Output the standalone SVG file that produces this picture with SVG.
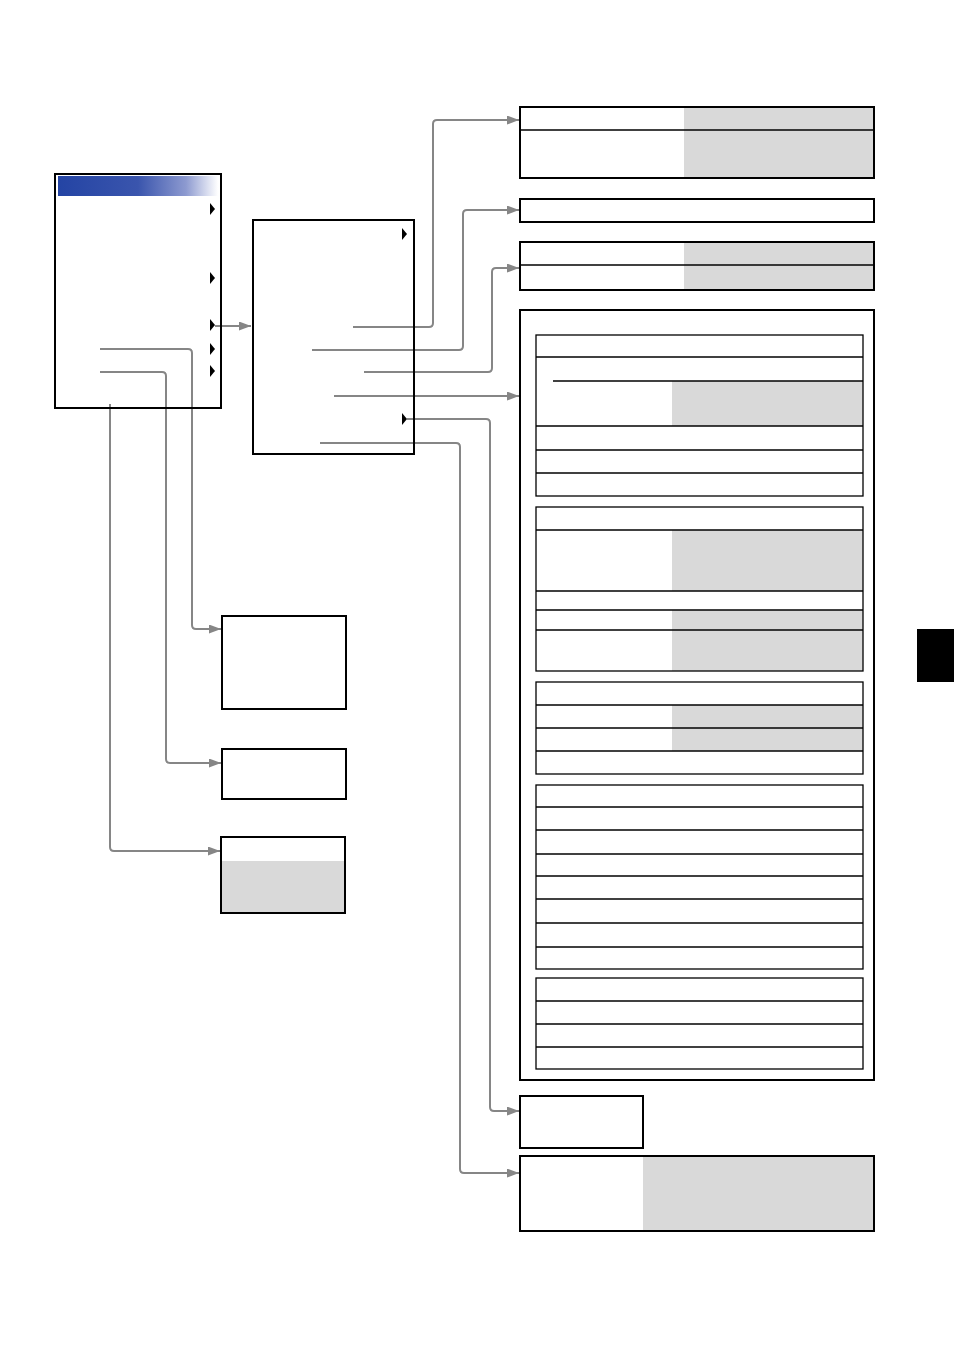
<svg xmlns="http://www.w3.org/2000/svg" width="954" height="1348" viewBox="0 0 954 1348">
<style>
.box{fill:#fff;stroke:#000;stroke-width:2}
.in{fill:none;stroke:#000;stroke-width:1.3}
.g{fill:#d9d9d9;stroke:none}
.c{fill:none;stroke:#868686;stroke-width:2;stroke-linejoin:round}
.tri{fill:#000}
</style>
<defs>
<linearGradient id="hdr" x1="0" y1="0" x2="1" y2="0">
<stop offset="0" stop-color="#2444a4"/>
<stop offset="0.5" stop-color="#3a55ad"/>
<stop offset="0.8" stop-color="#8d9ad0"/>
<stop offset="1" stop-color="#ffffff"/>
</linearGradient>
<marker id="ah" viewBox="0 0 10 10" refX="10" refY="5" markerWidth="12" markerHeight="9" markerUnits="userSpaceOnUse" orient="auto" preserveAspectRatio="none">
<path d="M0,0 L10,5 L0,10 Z" fill="#868686"/>
</marker>
</defs>
<rect width="954" height="1348" fill="#fff"/>

<g id="connectors">
<path class="c" marker-end="url(#ah)" d="M215,326 H251"/>
<path class="c" marker-end="url(#ah)" d="M353,327 H429 Q433,327 433,323 V124 Q433,120 437,120 H519"/>
<path class="c" marker-end="url(#ah)" d="M312,350 H459 Q463,350 463,346 V214 Q463,210 467,210 H519"/>
<path class="c" marker-end="url(#ah)" d="M364,372 H488 Q492,372 492,368 V272 Q492,268 496,268 H519"/>
<path class="c" marker-end="url(#ah)" d="M334,396 H519"/>
<path class="c" marker-end="url(#ah)" d="M407,419 H486 Q490,419 490,423 V1107 Q490,1111 494,1111 H519"/>
<path class="c" marker-end="url(#ah)" d="M320,443 H456 Q460,443 460,447 V1169 Q460,1173 464,1173 H519"/>
<path class="c" marker-end="url(#ah)" d="M100,349 H188 Q192,349 192,353 V625 Q192,629 196,629 H221"/>
<path class="c" marker-end="url(#ah)" d="M100,372 H162 Q166,372 166,376 V759 Q166,763 170,763 H221"/>
<path class="c" marker-end="url(#ah)" d="M110,404 V847 Q110,851 114,851 H220"/>
</g>

<g id="menu-main">
<rect x="55" y="174" width="166" height="234" fill="none" stroke="#000" stroke-width="2"/>
<rect x="58" y="176" width="160" height="20" fill="url(#hdr)"/>
<path class="tri" d="M210,203 L215,209 L210,215 Z"/>
<path class="tri" d="M210,272 L215,278 L210,284 Z"/>
<path class="tri" d="M210,319 L215,325 L210,331 Z"/>
<path class="tri" d="M210,343 L215,349 L210,355 Z"/>
<path class="tri" d="M210,365 L215,371 L210,377 Z"/>
</g>

<g id="menu-sub">
<rect x="253" y="220" width="161" height="234" fill="none" stroke="#000" stroke-width="2"/>
<path class="tri" d="M402,228 L407,234 L402,240 Z"/>
<path class="tri" d="M402,413 L407,419 L402,425 Z"/>
</g>

<g id="box-a">
<rect class="box" x="520" y="107" width="354" height="71"/>
<rect class="g" x="684" y="108" width="189" height="69"/>
<line class="in" x1="520" y1="130" x2="874" y2="130"/>
</g>

<g id="box-b">
<rect class="box" x="520" y="199" width="354" height="23"/>
</g>

<g id="box-c">
<rect class="box" x="520" y="242" width="354" height="48"/>
<rect class="g" x="684" y="243" width="189" height="46"/>
<line class="in" x1="520" y1="265" x2="874" y2="265"/>
</g>

<g id="box-d">
<rect class="box" x="520" y="310" width="354" height="770"/>
<g id="table-1">
<rect class="g" x="672" y="381" width="191" height="45"/>
<rect class="in" x="536" y="335" width="327" height="161"/>
<line class="in" x1="536" y1="357" x2="863" y2="357"/>
<line class="in" x1="553" y1="381" x2="863" y2="381"/>
<line class="in" x1="536" y1="426" x2="863" y2="426"/>
<line class="in" x1="536" y1="450" x2="863" y2="450"/>
<line class="in" x1="536" y1="473" x2="863" y2="473"/>
</g>
<g id="table-2">
<rect class="g" x="672" y="530" width="191" height="61"/>
<rect class="g" x="672" y="610" width="191" height="61"/>
<rect class="in" x="536" y="507" width="327" height="164"/>
<line class="in" x1="536" y1="530" x2="863" y2="530"/>
<line class="in" x1="536" y1="591" x2="863" y2="591"/>
<line class="in" x1="536" y1="610" x2="863" y2="610"/>
<line class="in" x1="536" y1="630" x2="863" y2="630"/>
</g>
<g id="table-3">
<rect class="g" x="672" y="705" width="191" height="46"/>
<rect class="in" x="536" y="682" width="327" height="92"/>
<line class="in" x1="536" y1="705" x2="863" y2="705"/>
<line class="in" x1="536" y1="728" x2="863" y2="728"/>
<line class="in" x1="536" y1="751" x2="863" y2="751"/>
</g>
<g id="table-4">
<rect class="in" x="536" y="785" width="327" height="184"/>
<line class="in" x1="536" y1="807" x2="863" y2="807"/>
<line class="in" x1="536" y1="830" x2="863" y2="830"/>
<line class="in" x1="536" y1="854" x2="863" y2="854"/>
<line class="in" x1="536" y1="876" x2="863" y2="876"/>
<line class="in" x1="536" y1="899" x2="863" y2="899"/>
<line class="in" x1="536" y1="923" x2="863" y2="923"/>
<line class="in" x1="536" y1="947" x2="863" y2="947"/>
</g>
<g id="table-5">
<rect class="in" x="536" y="978" width="327" height="91"/>
<line class="in" x1="536" y1="1001" x2="863" y2="1001"/>
<line class="in" x1="536" y1="1024" x2="863" y2="1024"/>
<line class="in" x1="536" y1="1047" x2="863" y2="1047"/>
</g>
</g>

<g id="box-e">
<rect class="box" x="520" y="1096" width="123" height="52"/>
</g>

<g id="box-f">
<rect class="box" x="520" y="1156" width="354" height="75"/>
<rect class="g" x="643" y="1157" width="230" height="73"/>
</g>

<g id="box-g">
<rect class="box" x="222" y="616" width="124" height="93"/>
</g>

<g id="box-h">
<rect class="box" x="222" y="749" width="124" height="50"/>
</g>

<g id="box-i">
<rect class="box" x="221" y="837" width="124" height="76"/>
<rect class="g" x="222" y="861" width="122" height="51"/>
</g>

<g id="tab">
<rect x="917" y="629" width="37" height="53" fill="#000"/>
</g>
</svg>
